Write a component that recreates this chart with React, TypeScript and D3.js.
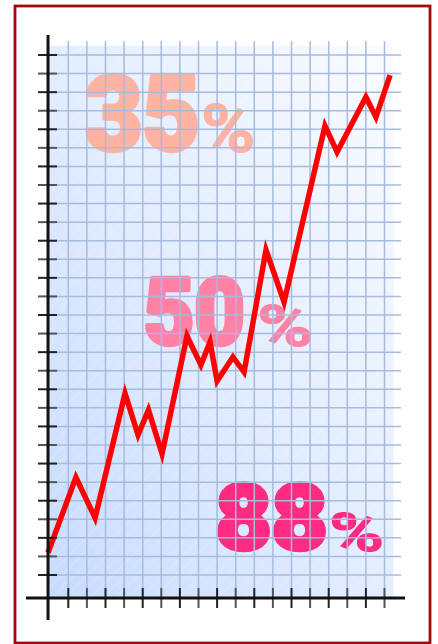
import React from "react";
import * as d3 from "d3";

// Line data (x in grid columns, y in grid rows from bottom gridline)
const lineX = [-0.09, 1.41, 2.44, 4.05, 4.75, 5.31, 6.04, 7.38, 8.13, 8.62, 9.0, 9.85, 10.45, 11.63, 12.6, 14.8, 15.45, 17.0, 17.54, 18.3];
const lineY = [1.2, 5.26, 3.07, 9.78, 7.54, 8.89, 6.52, 12.87, 11.31, 12.55, 10.45, 11.74, 10.93, 17.5, 14.7, 24.18, 22.78, 25.74, 24.66, 26.92];

const colTicks = d3.range(1, 19);
const rowTicks = d3.range(0, 29);

const labels = ["35", "50", "88"];
const labelColors = ["#ffb3a2", "#ff82a4", "#ff2b80"];

const W = 438;
const H = 644;

export default function App() {
  const x = d3.scaleLinear().domain([0, 19]).range([49.7, 403.1]);
  const y = d3.scaleLinear().domain([0, 28]).range([575, 55]);
  const axisX = x(-0.09);
  const axisY = y(-1.24);

  const line = d3
    .line<number>()
    .x((_, i) => x(lineX[i]))
    .y((_, i) => y(lineY[i]));

  // label layout: [inkLeft, inkBottom, inkHeight, inkWidth, pctLeft, pctHeight, pctWidth]
  const labelLayout = [
    [85, 152.3, 78, 115, 203, 48, 51],
    [143.3, 346.7, 70, 102, 259, 42, 53],
    [215, 551.7, 69, 113, 331, 40, 52],
  ];
  const sw = 4.5; // outline thickening for the heavy digits
  const psw = 1.2;

  const font = "Roboto, 'DejaVu Sans', sans-serif";

  return (
    <svg
      width={W}
      height={H}
      style={{ position: "absolute", left: 0, top: 0 }}
      viewBox={`0 0 ${W} ${H}`}
    >
      <defs>
        <linearGradient id="bg" x1="0" y1="1" x2="1" y2="0">
          <stop offset="0" stopColor="#c8dbff" />
          <stop offset="0.5" stopColor="#e3edff" />
          <stop offset="1" stopColor="#fafcff" />
        </linearGradient>
        <pattern id="hatch" width="9" height="9" patternUnits="userSpaceOnUse" patternTransform="rotate(45)">
          <line x1="0" y1="0" x2="0" y2="9" stroke="#ffffff" strokeWidth="1" strokeOpacity="0.35" />
        </pattern>
      </defs>
      <rect x={0} y={0} width={W} height={H} fill="#ffffff" />
      <rect x={15} y={6} width={415} height={637} fill="#ffffff" stroke="#a00a0a" strokeWidth={2.8} />

      <rect x={axisX} y={46} width={393.5 - axisX} height={axisY - 46} fill="url(#bg)" />
      <rect x={axisX} y={46} width={393.5 - axisX} height={axisY - 46} fill="url(#hatch)" />

      {labels.map((t, k) => {
        const [l, b, h, w, pl, ph, pw] = labelLayout[k];
        const fs = (h - sw) / 0.711;
        const ps = (ph - psw) / 0.711;
        return (
          <g key={t} fill={labelColors[k]} fontFamily={font} stroke={labelColors[k]} strokeLinejoin="round">
            <text
              x={l + sw / 2 - fs * 0.02}
              y={b - sw / 2}
              fontSize={fs}
              fontWeight={900}
              strokeWidth={sw}
              textLength={w - sw + fs * 0.04}
              lengthAdjust="spacingAndGlyphs"
            >
              {t}
            </text>
            <text
              x={pl - ps * 0.03}
              y={b - psw / 2}
              fontSize={ps}
              fontWeight={700}
              strokeWidth={psw}
              textLength={pw + ps * 0.05}
              lengthAdjust="spacingAndGlyphs"
            >
              %
            </text>
          </g>
        );
      })}

      <g stroke="#a6bbdd" strokeWidth={1.5}>
        {rowTicks.map((r) => (
          <line key={"h" + r} x1={axisX} x2={401} y1={y(r)} y2={y(r)} />
        ))}
        {colTicks.map((c) => (
          <line key={"v" + c} x1={x(c)} x2={x(c)} y1={41} y2={axisY} />
        ))}
      </g>

      <path
        d={line(lineX) || ""}
        fill="none"
        stroke="#ff0000"
        strokeWidth={5.5}
        strokeLinejoin="miter"
        strokeMiterlimit={10}
      />

      <g strokeWidth={2}>
        {rowTicks.map((r) => (
          <line
            key={"yt" + r}
            x1={38}
            x2={57}
            y1={y(r)}
            y2={y(r)}
            stroke={r % 2 === 0 ? "#222222" : "#555555"}
          />
        ))}
        {colTicks.map((c) => (
          <line
            key={"xt" + c}
            x1={x(c)}
            x2={x(c)}
            y1={588}
            y2={608}
            stroke={c % 2 === 0 ? "#555555" : "#222222"}
          />
        ))}
      </g>
      <line x1={axisX} x2={axisX} y1={35} y2={620} stroke="#111111" strokeWidth={3} />
      <line x1={26} x2={405} y1={axisY} y2={axisY} stroke="#111111" strokeWidth={3} />
    </svg>
  );
}
